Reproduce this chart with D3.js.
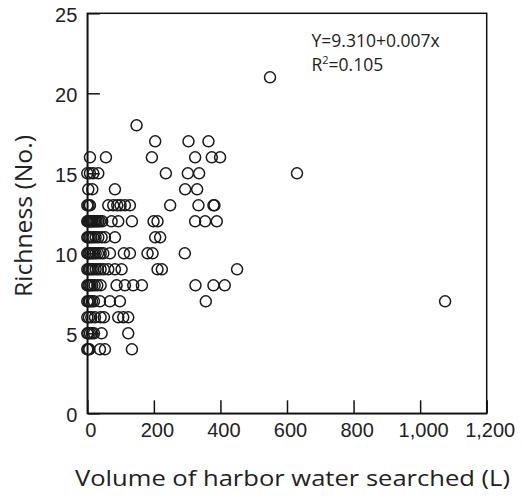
<!DOCTYPE html>
<html>
<head>
<meta charset="utf-8">
<script src="https://cdn.jsdelivr.net/npm/d3@7"></script>
<style>
  html, body { margin: 0; padding: 0; background: #fff; }
  svg { display: block; }
</style>
</head>
<body>
<svg id="chart" width="522" height="499"></svg>
<script>
// ---- data ----
const richnessLevels = [4, 5, 6, 7, 8, 9, 10, 11, 12, 13, 14, 15, 16, 17, 18, 21];
const volumesAt4  = [0, 3, 6, 38, 53, 134];
const volumesAt5  = [0, 3, 8, 14, 20, 43, 123];
const volumesAt6  = [0, 5, 12, 23, 40, 50, 93, 108, 123];
const volumesAt7  = [0, 4, 8, 14, 20, 38, 68, 98, 356, 1075];
const volumesAt8  = [0, 3, 6, 10, 15, 22, 30, 40, 88, 113, 138, 164, 325, 379, 413];
const volumesAt9  = [0, 4, 8, 13, 18, 25, 32, 40, 50, 63, 83, 103, 211, 224, 450];
const volumesAt10 = [0, 3, 6, 10, 15, 20, 25, 32, 40, 48, 68, 110, 128, 181, 196, 293];
const volumesAt11 = [0, 3, 7, 12, 18, 25, 33, 43, 53, 83, 204, 219];
const volumesAt12 = [0, 2, 5, 8, 10, 13, 16, 20, 24, 28, 33, 38, 45, 73, 93, 134, 199, 211, 324, 354, 389];
const volumesAt13 = [0, 4, 8, 63, 78, 90, 100, 113, 128, 249, 334, 379, 382];
const volumesAt14 = [3, 15, 83, 294, 330];
const volumesAt15 = [0, 8, 18, 33, 236, 302, 336, 630];
const volumesAt16 = [8, 56, 194, 324, 374, 399];
const volumesAt17 = [204, 304, 364];
const volumesAt18 = [148];
const volumesAt21 = [549];
const volumeRows = [volumesAt4, volumesAt5, volumesAt6, volumesAt7, volumesAt8, volumesAt9,
  volumesAt10, volumesAt11, volumesAt12, volumesAt13, volumesAt14, volumesAt15,
  volumesAt16, volumesAt17, volumesAt18, volumesAt21];

const xTicks = [0, 200, 400, 600, 800, 1000, 1200];
const yTicks = [0, 5, 10, 15, 20, 25];
const xTitle = "Volume of harbor water searched (L)";
const yTitle = "Richness (No.)";
const equationText = "Y=9.310+0.007x";
const r2Value = "=0.105";

// ---- build points ----
const points = [];
richnessLevels.forEach((r, i) => volumeRows[i].forEach(v => points.push({ v, r })));

// ---- layout ----
const svg = d3.select("#chart");
const plotL = 87.3, plotR = 486.7, plotT = 13.3, plotB = 413.3;
const x = d3.scaleLinear().domain([0, 1200]).range([plotL, plotR]);
const y = d3.scaleLinear().domain([0, 25]).range([plotB, plotT]);

// frame
svg.append("rect")
  .attr("x", plotL).attr("y", plotT)
  .attr("width", plotR - plotL).attr("height", plotB - plotT)
  .attr("fill", "none").attr("stroke", "#111").attr("stroke-width", 1.5);

// x axis (ticks inward)
const xAxis = d3.axisBottom(x).tickValues(xTicks).tickSize(-13).tickSizeOuter(0)
  .tickFormat(d3.format(","));
const gx = svg.append("g").attr("transform", `translate(0,${plotB})`).call(xAxis);
gx.select(".domain").attr("stroke", "#111").attr("stroke-width", 1.5);
gx.selectAll(".tick line").attr("stroke", "#111").attr("stroke-width", 1.5);
gx.selectAll(".tick text")
  .attr("font-family", "Liberation Sans, Arial, sans-serif")
  .attr("font-size", 20).attr("fill", "#222")
  .attr("dx", 3).attr("y", 10).attr("dy", "0.71em");

// y axis (ticks inward)
const yAxis = d3.axisLeft(y).tickValues(yTicks).tickSize(-12.5).tickSizeOuter(0);
const gy = svg.append("g").attr("transform", `translate(${plotL},0)`).call(yAxis);
gy.select(".domain").attr("stroke", "#111").attr("stroke-width", 1.5);
gy.selectAll(".tick line").attr("stroke", "#111").attr("stroke-width", 1.5);
gy.selectAll(".tick text")
  .attr("font-family", "Liberation Sans, Arial, sans-serif")
  .attr("font-size", 20).attr("fill", "#222")
  .attr("x", -10).attr("dy", "0.40em");

// points
svg.append("g").selectAll("circle").data(points).join("circle")
  .attr("cx", d => x(d.v)).attr("cy", d => y(d.r))
  .attr("r", 5.5)
  .attr("fill", "none").attr("stroke", "#1a1a1a").attr("stroke-width", 1.5);

// equation annotation
const ann = svg.append("g").attr("font-family", "Open Sans, sans-serif").attr("fill", "#222");
ann.append("text").attr("x", 311.5).attr("y", 47).attr("font-size", 17.5).text(equationText);
const r2 = ann.append("text").attr("x", 311.5).attr("y", 71).attr("font-size", 17.5);
r2.append("tspan").text("R");
r2.append("tspan").attr("dy", -7).attr("font-size", 11).text("2");
r2.append("tspan").attr("dy", 7).text(r2Value);

// axis titles
svg.append("text")
  .attr("x", 75).attr("y", 486)
  .attr("font-family", "Open Sans, sans-serif").attr("font-size", 22).attr("fill", "#222")
  .attr("textLength", 435).attr("lengthAdjust", "spacingAndGlyphs")
  .text(xTitle);

svg.append("text")
  .attr("transform", "translate(32,216) rotate(-90)")
  .attr("text-anchor", "middle")
  .attr("font-family", "Open Sans, sans-serif").attr("font-size", 23).attr("fill", "#222")
  .attr("textLength", 162).attr("lengthAdjust", "spacingAndGlyphs")
  .text(yTitle);
</script>
</body>
</html>
